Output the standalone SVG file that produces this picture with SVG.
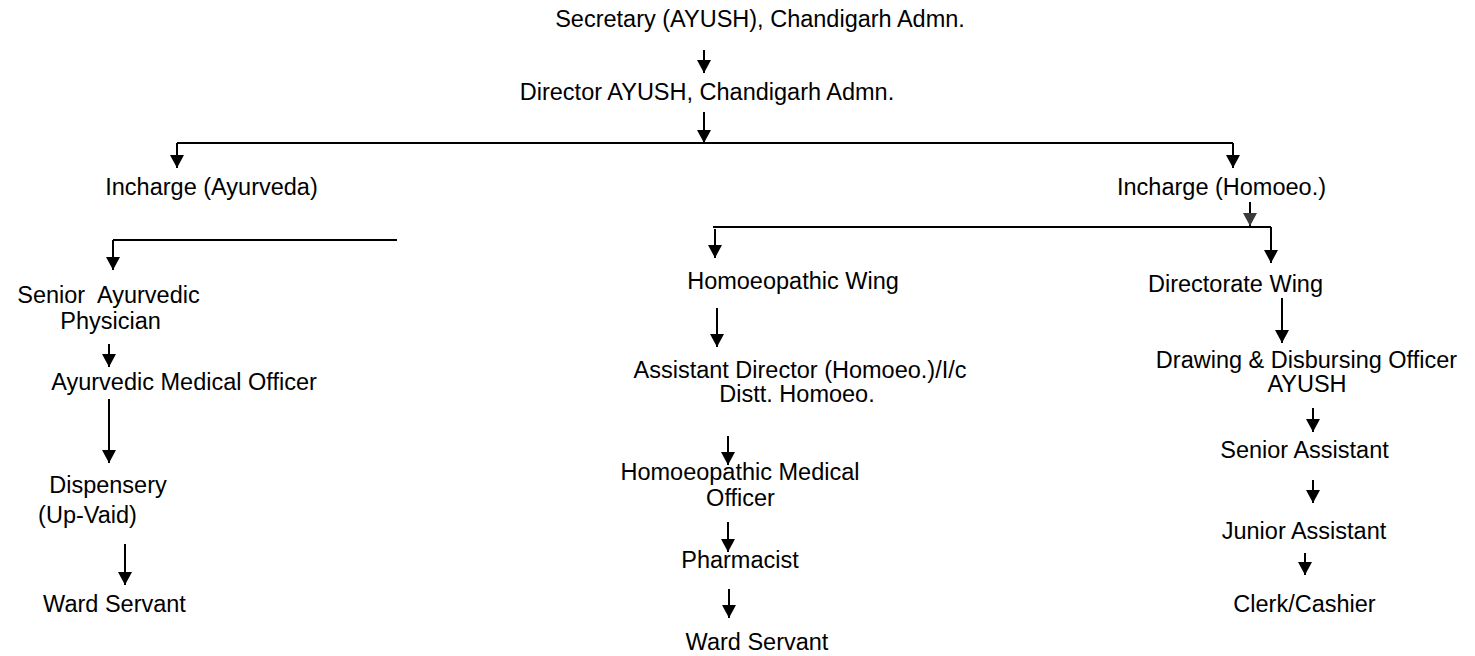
<svg xmlns="http://www.w3.org/2000/svg" width="1475" height="656" viewBox="0 0 1475 656">
<style>
  text { font-family: "Liberation Sans", Arial, sans-serif; font-size: 23.5px; fill: #000; text-anchor: middle; white-space: pre; }
  .c { fill: none; stroke: #000; stroke-width: 2; }
  .a { marker-end: url(#ah); }
  .g { marker-end: url(#ahg); }
</style>
<defs>
  <marker id="ah" markerUnits="userSpaceOnUse" markerWidth="14" markerHeight="14" refX="13" refY="7" orient="auto">
    <path d="M0,0 L13,7 L0,14 Z" fill="#000"/>
  </marker>
  <marker id="ahg" markerUnits="userSpaceOnUse" markerWidth="14" markerHeight="14" refX="13" refY="7" orient="auto">
    <path d="M0,0 L13,7 L0,14 Z" fill="#3a3a3a"/>
  </marker>
</defs>
<rect width="1475" height="656" fill="#fff"/>

<g id="connectors">
  <path class="c a" d="M704,50 V73"/>
  <path class="c a" d="M704,112 V143"/>
  <path class="c" d="M177,143 H1233" stroke-width="2.4"/>
  <path class="c a" d="M177,143 V168"/>
  <path class="c a" d="M1233,143 V168"/>
  <path class="c g" d="M1250,202 V226"/>
  <path class="c" d="M713,227 H1271"/>
  <path class="c a" d="M715,229 V258"/>
  <path class="c a" d="M1271,227 V263"/>
  <path class="c" d="M113,240 H397"/>
  <path class="c a" d="M113,240 V270"/>
  <path class="c a" d="M109,344 V367"/>
  <path class="c a" d="M109,399 V463"/>
  <path class="c a" d="M125,544 V585"/>
  <path class="c a" d="M717,308 V347"/>
  <path class="c a" d="M728,436 V465"/>
  <path class="c a" d="M728,522 V552"/>
  <path class="c a" d="M729,589 V618"/>
  <path class="c a" d="M1282,298 V343"/>
  <path class="c a" d="M1313,408 V432"/>
  <path class="c a" d="M1313,480 V503"/>
  <path class="c a" d="M1305,553 V575"/>
</g>

<g id="secretary"><text x="760" y="27">Secretary (AYUSH), Chandigarh Admn.</text></g>
<g id="director"><text x="707" y="100">Director AYUSH, Chandigarh Admn.</text></g>
<g id="incharge-ayurveda"><text x="211.5" y="195">Incharge (Ayurveda)</text></g>
<g id="incharge-homoeo"><text x="1221.5" y="195">Incharge (Homoeo.)</text></g>

<g id="senior-ayurvedic-physician">
  <text x="108.5" y="303" xml:space="preserve">Senior  Ayurvedic</text>
  <text x="110.5" y="329">Physician</text>
</g>
<g id="ayurvedic-medical-officer"><text x="184" y="390">Ayurvedic Medical Officer</text></g>
<g id="dispensery">
  <text x="108" y="493">Dispensery</text>
  <text x="87.5" y="523">(Up-Vaid)</text>
</g>
<g id="ward-servant-ayurveda"><text x="114.5" y="612">Ward Servant</text></g>

<g id="homoeopathic-wing"><text x="793" y="289">Homoeopathic Wing</text></g>
<g id="assistant-director">
  <text x="800" y="378">Assistant Director (Homoeo.)/I/c</text>
  <text x="797" y="402">Distt. Homoeo.</text>
</g>
<g id="homoeopathic-medical-officer">
  <text x="740" y="480">Homoeopathic Medical</text>
  <text x="740.5" y="506">Officer</text>
</g>
<g id="pharmacist"><text x="740" y="568">Pharmacist</text></g>
<g id="ward-servant-homoeo"><text x="757" y="650">Ward Servant</text></g>

<g id="directorate-wing"><text x="1235.5" y="292">Directorate Wing</text></g>
<g id="ddo">
  <text x="1306.5" y="368">Drawing &amp; Disbursing Officer</text>
  <text x="1307" y="392">AYUSH</text>
</g>
<g id="senior-assistant"><text x="1304.5" y="458">Senior Assistant</text></g>
<g id="junior-assistant"><text x="1304" y="539">Junior Assistant</text></g>
<g id="clerk-cashier"><text x="1304.5" y="612">Clerk/Cashier</text></g>
</svg>
